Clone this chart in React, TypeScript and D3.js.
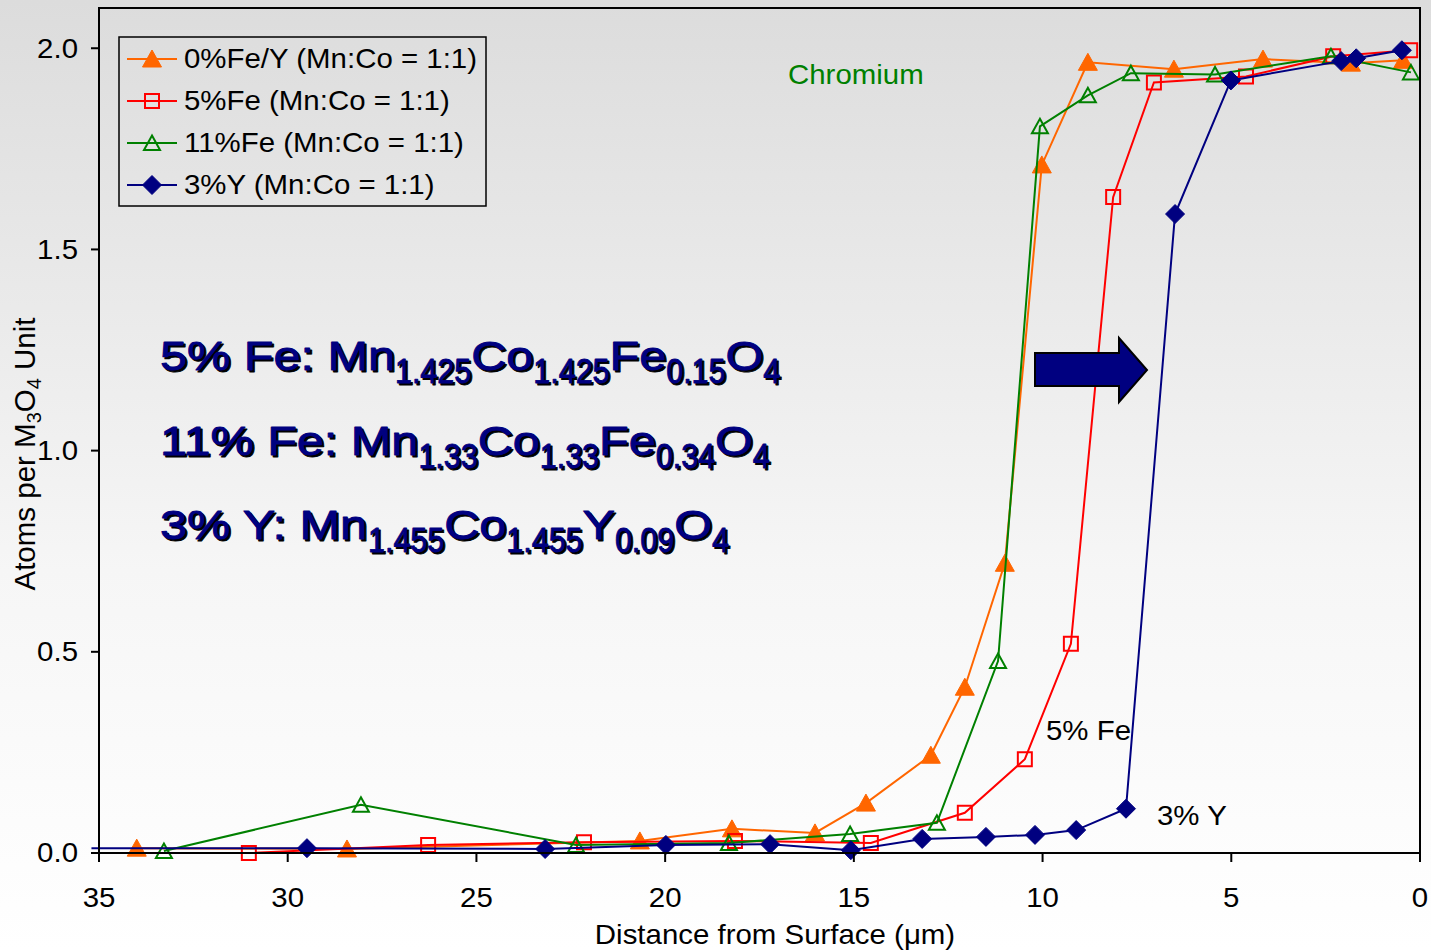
import React from "react";
import * as d3 from "d3";

// Distance from surface (µm) and atoms per M3O4 unit for each coating
const feY0X = [34.0, 28.43, 20.67, 18.23, 16.03, 14.68, 12.96, 12.06, 11.0, 10.02, 8.8, 6.52, 4.16, 1.83, 0.45];
const feY0V = [0.012, 0.01, 0.03, 0.06, 0.05, 0.124, 0.243, 0.412, 0.72, 1.71, 1.965, 1.948, 1.973, 1.963, 1.97];

const fe5X = [31.03, 26.28, 22.15, 18.15, 14.55, 12.06, 10.47, 9.25, 8.13, 7.05, 4.61, 2.3, 0.26];
const fe5V = [0.0, 0.02, 0.027, 0.03, 0.025, 0.1, 0.233, 0.52, 1.63, 1.915, 1.93, 1.98, 1.995];

const fe11X = [33.28, 28.06, 22.36, 18.31, 15.1, 12.8, 11.18, 10.07, 8.8, 7.66, 5.43, 2.36, 0.24];
const fe11V = [0.005, 0.12, 0.02, 0.025, 0.047, 0.075, 0.477, 1.806, 1.883, 1.938, 1.935, 1.98, 1.94];

const y3X = [35.2, 29.49, 23.18, 19.98, 17.22, 15.08, 13.19, 11.5, 10.2, 9.11, 7.79, 6.49, 5.01, 2.09, 1.69, 0.48];
const y3V = [0.012, 0.012, 0.01, 0.02, 0.022, 0.007, 0.035, 0.04, 0.045, 0.057, 0.11, 1.588, 1.92, 1.968, 1.975, 1.995];

const seriesNames = [
  "0%Fe/Y (Mn:Co = 1:1)",
  "5%Fe (Mn:Co = 1:1)",
  "11%Fe (Mn:Co = 1:1)",
  "3%Y (Mn:Co = 1:1)",
];
const seriesColors = ["#FF6600", "#FF0000", "#008000", "#000080"];
const seriesMarkers = ["triFilled", "square", "triOpen", "diamond"];

const xTicks = [35, 30, 25, 20, 15, 10, 5, 0];
const yTicks = [0, 0.5, 1.0, 1.5, 2.0];

// Spinel compositions: [text, isSubscript]
const formula5Fe: [string, boolean][] = [
  ["5% Fe: Mn", false], ["1.425", true], ["Co", false], ["1.425", true],
  ["Fe", false], ["0.15", true], ["O", false], ["4", true],
];
const formula11Fe: [string, boolean][] = [
  ["11% Fe: Mn", false], ["1.33", true], ["Co", false], ["1.33", true],
  ["Fe", false], ["0.34", true], ["O", false], ["4", true],
];
const formula3Y: [string, boolean][] = [
  ["3% Y: Mn", false], ["1.455", true], ["Co", false], ["1.455", true],
  ["Y", false], ["0.09", true], ["O", false], ["4", true],
];

const W = 1431;
const H = 950;
const FONT_NAME = "Liberation Sans";
const FONT = `'${FONT_NAME}', Arial, sans-serif`;
const TXT = 27;
const SX = 1.09;

const x = d3.scaleLinear().domain([35, 0]).range([99, 1420]);
const y = d3.scaleLinear().domain([0, 2.1]).range([853, 8]);

let measureCtx: CanvasRenderingContext2D | null = null;
function measure(t: string, size: number): number {
  if (!measureCtx) measureCtx = document.createElement("canvas").getContext("2d");
  if (!measureCtx) return t.length * size * 0.55;
  measureCtx.font = `${size}px '${FONT_NAME}'`;
  return measureCtx.measureText(t).width;
}

function markerPath(kind: string, cx: number, cy: number): string {
  switch (kind) {
    case "triFilled":
      return `M${cx},${cy - 9}L${cx + 9.5},${cy + 8}L${cx - 9.5},${cy + 8}Z`;
    case "triOpen":
      return `M${cx},${cy - 7.5}L${cx + 8},${cy + 7}L${cx - 8},${cy + 7}Z`;
    case "square":
      return `M${cx - 7},${cy - 7}h14v14h-14Z`;
    default:
      return `M${cx},${cy - 9.5}L${cx + 9.5},${cy}L${cx},${cy + 9.5}L${cx - 9.5},${cy}Z`;
  }
}

function Marker({ kind, cx, cy, color }: { kind: string; cx: number; cy: number; color: string }) {
  const filled = kind === "triFilled" || kind === "diamond";
  return (
    <path
      d={markerPath(kind, cx, cy)}
      fill={filled ? color : "none"}
      stroke={color}
      strokeWidth={filled ? 1 : 2}
    />
  );
}

// Text with the slightly wide glyph proportions used throughout the chart
function SText({
  x: tx,
  y: ty,
  anchor = "start",
  fill = "#000",
  dy,
  children,
}: {
  x: number;
  y: number;
  anchor?: string;
  fill?: string;
  dy?: string;
  children: React.ReactNode;
}) {
  return (
    <text
      transform={`translate(${tx},${ty}) scale(${SX},1)`}
      dy={dy}
      textAnchor={anchor}
      fontFamily={FONT}
      fontSize={TXT}
      fill={fill}
    >
      {children}
    </text>
  );
}

const MAIN_SIZE = 40.5;
const MAIN_SX = 1.2;
const SUB_SIZE = 35;
const SUB_SX = 0.87;
const SUB_DROP = 13;

function Formula({ yBase, parts }: { yBase: number; parts: [string, boolean][] }) {
  let cursor = 160;
  const pieces = parts.map(([t, sub]) => {
    const size = sub ? SUB_SIZE : MAIN_SIZE;
    const sx = sub ? SUB_SX : MAIN_SX;
    const px = cursor;
    cursor += measure(t, size) * sx;
    return { t, size, sx, px, py: yBase + (sub ? SUB_DROP : 0) };
  });
  const layer = (fill: string, off: number) =>
    pieces.map((p, i) => (
      <text
        key={i}
        transform={`translate(${p.px + off},${p.py + off}) scale(${p.sx},1)`}
        fontFamily={FONT}
        fontSize={p.size}
        fill={fill}
        stroke={fill}
        strokeWidth={0.9}
        strokeLinejoin="round"
      >
        {p.t}
      </text>
    ));
  return (
    <g>
      {layer("#000000", 2)}
      {layer("#000080", 0)}
    </g>
  );
}

export default function App() {
  const series = [
    { xs: feY0X, vs: feY0V },
    { xs: fe5X, vs: fe5V },
    { xs: fe11X, vs: fe11V },
    { xs: y3X, vs: y3V },
  ];
  const line = d3
    .line<[number, number]>()
    .x((d) => x(d[0]))
    .y((d) => y(d[1]));

  const legendRows = [59, 101, 143, 185];

  return (
    <div style={{ position: "absolute", left: 0, top: 0 }}>
      <svg width={W} height={H} style={{ display: "block" }}>
        <defs>
          <linearGradient id="bg" x1="0" y1="0" x2="0" y2="1">
            <stop offset="0" stopColor="#dcdcdc" />
            <stop offset="0.6" stopColor="#f6f6f6" />
            <stop offset="1" stopColor="#ffffff" />
          </linearGradient>
        </defs>
        <rect x={0} y={0} width={W} height={H} fill="url(#bg)" />

        {/* series lines and markers */}
        {series.map((s, si) => {
          const pts: [number, number][] = s.xs.map((d, i) => [d, s.vs[i]]);
          return (
            <g key={si}>
              <path d={line(pts) || ""} fill="none" stroke={seriesColors[si]} strokeWidth={2} />
              {pts
                .filter((p) => p[0] <= 35)
                .map((p, i) => (
                  <Marker key={i} kind={seriesMarkers[si]} cx={x(p[0])} cy={y(p[1])} color={seriesColors[si]} />
                ))}
            </g>
          );
        })}

        {/* frame and axes */}
        <rect x={99} y={8} width={1321} height={845} fill="none" stroke="#000" strokeWidth={2} />
        {yTicks.map((t) => (
          <g key={t}>
            <line x1={91} x2={99} y1={y(t)} y2={y(t)} stroke="#000" strokeWidth={2} />
            <SText x={78} y={y(t)} dy="0.35em" anchor="end">
              {t.toFixed(1)}
            </SText>
          </g>
        ))}
        {xTicks.map((t) => (
          <g key={t}>
            <line x1={x(t)} x2={x(t)} y1={853} y2={862} stroke="#000" strokeWidth={2} />
            <SText x={x(t)} y={907} anchor="middle">
              {t}
            </SText>
          </g>
        ))}
        <SText x={775} y={944} anchor="middle">
          Distance from Surface (μm)
        </SText>
        <text
          transform="translate(35,454) rotate(-90)"
          textAnchor="middle"
          fontFamily={FONT}
          fontSize={29.5}
          fill="#000"
        >
          Atoms per M
          <tspan dy={6} fontSize={20}>3</tspan>
          <tspan dy={-6}>O</tspan>
          <tspan dy={6} fontSize={20}>4</tspan>
          <tspan dy={-6}> Unit</tspan>
        </text>

        {/* legend */}
        <rect x={119} y={37} width={367} height={169} fill="none" stroke="#000" strokeWidth={1.5} />
        {seriesNames.map((name, i) => (
          <g key={name}>
            <line x1={127} x2={177} y1={legendRows[i]} y2={legendRows[i]} stroke={seriesColors[i]} strokeWidth={2} />
            <Marker kind={seriesMarkers[i]} cx={152} cy={legendRows[i]} color={seriesColors[i]} />
            <SText x={184} y={legendRows[i]} dy="0.35em">
              {name}
            </SText>
          </g>
        ))}

        {/* annotations */}
        <SText x={788} y={84} fill="#008000">
          Chromium
        </SText>
        <SText x={1046} y={740}>
          5% Fe
        </SText>
        <SText x={1157} y={825}>
          3% Y
        </SText>

        <path
          d="M1035,353H1119V338L1147,370L1119,402V386H1035Z"
          fill="#000080"
          stroke="#000"
          strokeWidth={2}
        />

        <Formula yBase={370} parts={formula5Fe} />
        <Formula yBase={455} parts={formula11Fe} />
        <Formula yBase={539} parts={formula3Y} />
      </svg>
    </div>
  );
}
